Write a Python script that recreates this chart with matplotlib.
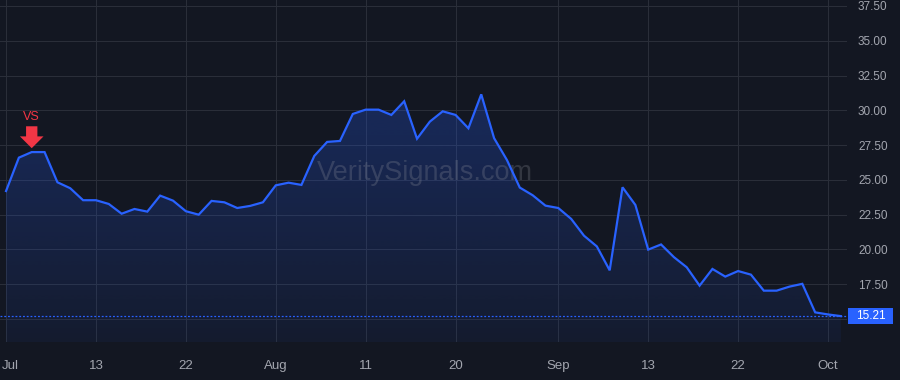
import matplotlib
matplotlib.use('Agg')
import matplotlib.pyplot as plt
from matplotlib.colors import to_rgb
from matplotlib.patches import Rectangle
from matplotlib.transforms import ScaledTranslation
import numpy as np
import pandas as pd

plt.rcParams['font.family'] = ['Liberation Sans', 'DejaVu Sans']

# Data: daily closes, trading days 2021-07-01 .. 2021-10-04
dates = pd.bdate_range('2021-07-01', '2021-10-04', freq='C',
                       holidays=['2021-07-05', '2021-09-06'])
close = [24.2, 26.6, 27.0, 27.0, 24.83, 24.4, 23.54, 23.54, 23.27, 22.57,
         22.91, 22.72, 23.87, 23.51, 22.75, 22.5, 23.49, 23.39, 22.98, 23.13,
         23.39, 24.61, 24.8, 24.64, 26.72, 27.73, 27.8, 29.74, 30.05, 30.05,
         29.67, 30.65, 27.96, 29.19, 29.93, 29.67, 28.71, 31.15, 28.0, 26.43,
         24.45, 23.9, 23.15, 22.98, 22.2, 20.99, 20.22, 18.5, 24.47, 23.2,
         19.99, 20.36, 19.45, 18.72, 17.4, 18.6, 18.05, 18.45, 18.19, 17.04,
         17.04, 17.33, 17.53, 15.48, 15.33, 15.21]
last_price = 15.21

tick_dates = ['2021-07-01', '2021-07-13', '2021-07-22', '2021-08-02', '2021-08-11',
              '2021-08-20', '2021-09-01', '2021-09-13', '2021-09-22', '2021-10-01']
tick_labels = ['Jul', '13', '22', 'Aug', '11', '20', 'Sep', '13', '22', 'Oct']
y_ticks = [15, 17.5, 20, 22.5, 25, 27.5, 30, 32.5, 35, 37.5]

signal_date = '2021-07-06'
signal_label = 'VS'

bg = '#131722'
grid_col = '#2a2e39'
line_col = '#2962ff'
text_col = '#a3a6af'
red = '#f23645'

x = np.arange(len(close))
xpos = {d.strftime('%Y-%m-%d'): i for i, d in enumerate(dates)}

fig = plt.figure(figsize=(9, 3.8), dpi=100, facecolor=bg)
ax = fig.add_axes([0, 0.1, 0.941, 0.9], facecolor=bg)

ymin, ymax = 13.35, 37.93

# gradient area under the line
fill = ax.fill_between(x, close, ymin, color='none', lw=0)
rgba = np.zeros((256, 1, 4))
rgba[..., :3] = to_rgb(line_col)
rgba[..., 3] = np.linspace(0.06, 0.26, 256)[:, None]
im = ax.imshow(rgba, extent=[x[0], x[-1], ymin, max(close)], origin='lower',
               aspect='auto', zorder=1, interpolation='bilinear')
im.set_clip_path(fill.get_paths()[0], transform=ax.transData)

ax.plot(x, close, color=line_col, lw=1.6, zorder=3, solid_joinstyle='miter')
ax.axhline(last_price, color=line_col, lw=0.9, ls=(0, (1.5, 1.5)), zorder=2)

ax.set_xlim(-0.47, len(close) - 1 + 0.47)
ax.set_ylim(ymin, ymax)

ax.set_xticks([xpos[d] for d in tick_dates])
ax.set_xticklabels(tick_labels)
ax.set_yticks(y_ticks)
ax.set_yticklabels(['' if v == 15 else f'{v:.2f}' for v in y_ticks])
ax.yaxis.tick_right()
ax.tick_params(axis='both', length=0, colors=text_col)
ax.tick_params(axis='y', pad=8, labelsize=8.5)
ax.tick_params(axis='x', pad=13, labelsize=9.5)
for lbl in ax.get_yticklabels():
    lbl.set_horizontalalignment('left')
# keep the first date label inside the figure
first = ax.get_xticklabels()[0]
first.set_horizontalalignment('left')
first.set_transform(first.get_transform() + ScaledTranslation(-4 / 100, 0, fig.dpi_scale_trans))
ax.grid(True, color=grid_col, lw=0.75, zorder=0)
ax.set_axisbelow(True)
for s in ax.spines.values():
    s.set_visible(False)

# watermark
ax.text(0.502, 0.494, 'VeritySignals.com', transform=ax.transAxes, ha='center',
        va='center', fontsize=19.5, color='#9598a1', alpha=0.25, zorder=2)

# signal marker
si = xpos[signal_date]
ax.annotate(signal_label, xy=(si, close[si]), xytext=(0, 25.4), textcoords='offset points',
            ha='center', va='center', color=red, fontsize=9, zorder=5,
            arrowprops=dict(arrowstyle='simple,head_length=0.5,head_width=1.0,tail_width=0.48',
                            mutation_scale=17, color=red, shrinkA=0.5, shrinkB=2.8, lw=0))

# last price label
trans = ax.get_yaxis_transform()
ax.add_patch(Rectangle((1.0015, last_price - 0.57), 0.053, 1.14, transform=trans,
                       facecolor=line_col, edgecolor='none', clip_on=False, zorder=6))
ax.text(1.0015 + 0.0265, last_price, f'{last_price:.2f}', transform=trans, ha='center',
        va='center', color='white', fontsize=8.5, zorder=7, clip_on=False)

fig.savefig('out.png', dpi=100, facecolor=bg)
